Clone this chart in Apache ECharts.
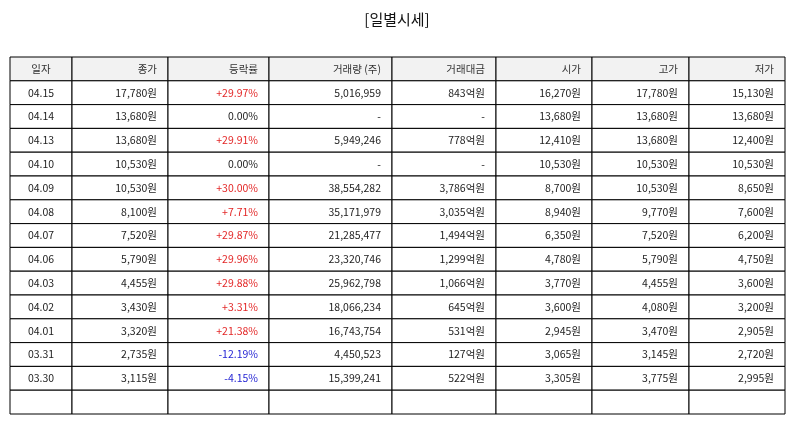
<!DOCTYPE html>
<html><head><meta charset="utf-8">
<script src="https://cdn.jsdelivr.net/npm/echarts@6/dist/echarts.min.js"></script>
<style>html,body{margin:0;padding:0;background:#fff}#c{width:794px;height:425px}</style>
</head><body><div id="c"></div>
<script>
const headers = ['일자','종가','등락률','거래량 (주)','거래대금','시가','고가','저가'];
const dates = ['04.15','04.14','04.13','04.10','04.09','04.08','04.07','04.06','04.03','04.02','04.01','03.31','03.30'];
const closes = ['17,780','13,680','13,680','10,530','10,530','8,100','7,520','5,790','4,455','3,430','3,320','2,735','3,115'];
const changes = [29.97,0.00,29.91,0.00,30.00,7.71,29.87,29.96,29.88,3.31,21.38,-12.19,-4.15];
const volumes = ['5,016,959','-','5,949,246','-','38,554,282','35,171,979','21,285,477','23,320,746','25,962,798','18,066,234','16,743,754','4,450,523','15,399,241'];
const amounts = ['843억원','-','778억원','-','3,786억원','3,035억원','1,494억원','1,299억원','1,066억원','645억원','531억원','127억원','522억원'];
const opens = ['16,270','13,680','12,410','10,530','8,700','8,940','6,350','4,780','3,770','3,600','2,945','3,065','3,305'];
const highs = ['17,780','13,680','13,680','10,530','10,530','9,770','7,520','5,790','4,455','4,080','3,470','3,145','3,775'];
const lows = ['15,130','13,680','12,400','10,530','8,650','7,600','6,200','4,750','3,600','3,200','2,905','2,720','2,995'];

const edges = [0,62,158,259,382,486,582,679,775];
const nRows = dates.length + 2;
const rowCats = Array.from({length:nRows},(_,i)=>String(i));
const cells = [];
for (let r=0;r<nRows;r++) for (let c=0;c<8;c++) cells.push([c,r]);

function fmtChange(v){ if (v>0) return '+'+v.toFixed(2)+'%'; return v.toFixed(2)+'%'; }
function cellInfo(c,r){
  if (r===0) return {text:headers[c], color:'#333', align: c===0?'center':'right'};
  const i=r-1;
  if (i>=dates.length) return {text:'', color:'#333', align:'right'};
  const cols=[dates[i], closes[i]+'원', fmtChange(changes[i]), volumes[i], amounts[i], opens[i]+'원', highs[i]+'원', lows[i]+'원'];
  let color='#222';
  if (c===2) color = changes[i]>0?'#e32727':(changes[i]<0?'#2626d4':'#222');
  return {text:cols[c], color, align:c===0?'center':'right'};
}

const chart = echarts.init(document.getElementById('c'));
chart.setOption({
  animation:false,
  title:{text:'[일별시세]',left:'center',top:7,textStyle:{fontSize:15,fontWeight:'normal',color:'#111',fontFamily:'Noto Sans CJK KR'}},
  grid:{left:10,right:9,top:57,bottom:11},
  xAxis:{type:'value',min:0,max:775,show:false},
  yAxis:{type:'category',data:rowCats,inverse:true,show:false},
  series:[{
    type:'custom',
    data:cells,
    renderItem:function(params,api){
      const c=api.value(0), r=api.value(1);
      const p0=api.coord([edges[c],r]), p1=api.coord([edges[c+1],r]);
      const h=api.size([0,1])[1];
      const x=p0[0], w=p1[0]-p0[0], y=p0[1]-h/2;
      const info=cellInfo(c,r);
      return {type:'group',children:[
        {type:'rect',shape:{x:x,y:y,width:w,height:h},style:{fill:r===0?'#f2f2f2':'#fff',stroke:'#000',lineWidth:1}},
        {type:'text',style:{text:info.text,x:info.align==='center'?x+w/2:x+w-11,y:y+h/2,align:info.align,verticalAlign:'middle',fill:info.color,fontSize:10.5,fontFamily:'Noto Sans CJK KR'}}
      ]};
    }
  }]
});
</script></body></html>
